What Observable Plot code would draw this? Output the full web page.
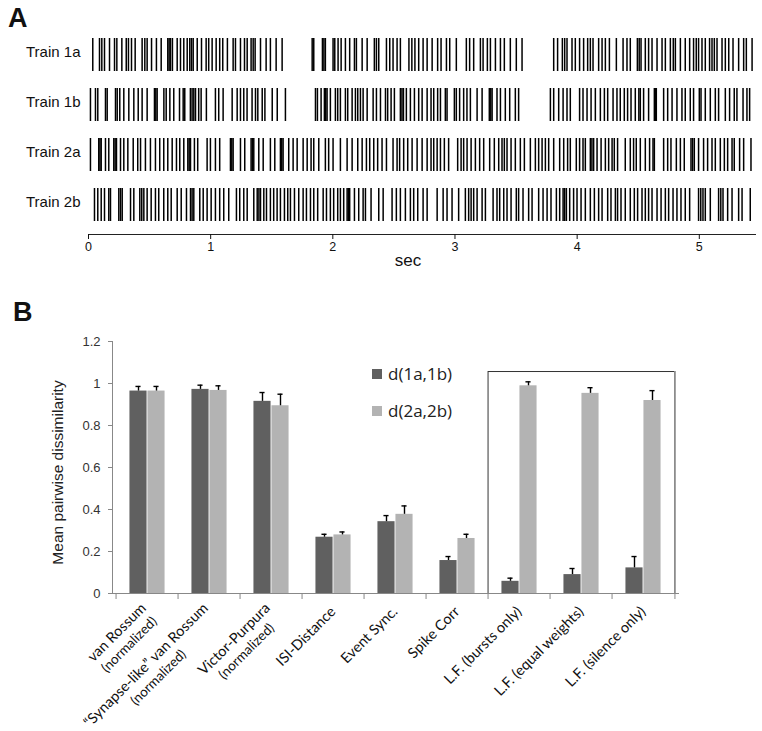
<!DOCTYPE html>
<html><head><meta charset="utf-8">
<script src="https://cdn.jsdelivr.net/npm/d3@7"></script>
<script src="https://cdn.jsdelivr.net/npm/@observablehq/plot@0.6"></script>
<style>
body{margin:0;background:#fff;}
#wrap{position:relative;width:762px;height:731px;overflow:hidden;font-family:"Liberation Sans",Arial,sans-serif;}
.panel{position:absolute;left:0;}
.plab{position:absolute;font-weight:bold;font-size:27px;line-height:1;font-family:"Liberation Sans",Arial,sans-serif;color:#111;}
.leg{position:absolute;left:372px;font-family:"Open Sans",sans-serif;font-size:17px;line-height:1;color:#222;display:flex;align-items:center;}
.leg span.sw{display:inline-block;width:10px;height:10px;margin-right:6px;}
</style></head>
<body><div id="wrap">
<div class="plab" style="left:8px;top:5px">A</div>
<div id="panelA" class="panel" style="top:0px"></div>
<div class="plab" style="left:13px;top:299px">B</div>
<div id="panelB" class="panel" style="top:280px"></div>
<div id="legend"></div>
</div>
<script>
// ---------- Panel A data: spike times (s) ----------
const trainNames = ["Train 1a", "Train 1b", "Train 2a", "Train 2b"];
const train1a = [0.035,0.090,0.109,0.131,0.172,0.213,0.232,0.273,0.309,0.327,0.352,0.382,0.439,0.461,0.480,0.516,0.556,0.595,0.649,0.660,0.671,0.687,0.726,0.753,0.780,0.808,0.829,0.843,0.857,0.890,0.925,0.963,0.984,1.012,1.045,1.074,1.099,1.137,1.184,1.203,1.244,1.277,1.299,1.331,1.348,1.364,1.408,1.454,1.489,1.536,1.585,
 1.831,1.844,1.915,1.927,1.939,2.002,2.016,2.043,2.068,2.103,2.138,2.177,2.193,2.240,2.281,2.340,2.357,2.376,2.439,2.466,2.493,2.526,2.553,2.623,2.647,2.672,2.703,2.739,2.772,2.813,2.858,2.886,2.930,2.957,3.011,3.093,3.120,3.153,3.208,3.230,3.265,3.290,3.331,3.372,3.404,3.453,3.502,3.549,
 3.808,3.840,3.879,3.898,3.917,3.958,3.985,4.020,4.053,4.086,4.108,4.130,4.176,4.204,4.231,4.264,4.321,4.376,4.408,4.435,4.493,4.508,4.523,4.558,4.585,4.613,4.654,4.695,4.722,4.763,4.787,4.804,4.845,4.885,4.921,4.953,4.975,4.994,5.022,5.049,5.084,5.104,5.123,5.145,5.186,5.213,5.241,5.276,5.322,5.363,5.385,5.432];
const train1b = [0.016,0.057,0.076,0.139,0.153,0.221,0.235,0.256,0.289,0.330,0.371,0.407,0.439,0.480,0.540,0.551,0.562,0.617,0.636,0.666,0.698,0.745,0.775,0.788,0.834,0.848,0.862,0.876,0.902,0.922,0.965,1.039,1.066,1.102,1.176,1.217,1.244,1.271,1.298,1.339,1.367,1.386,1.422,1.444,1.504,1.545,1.612,
 1.858,1.874,1.904,1.931,1.942,1.953,1.980,2.021,2.040,2.062,2.103,2.122,2.158,2.185,2.204,2.226,2.248,2.281,2.330,2.357,2.390,2.431,2.449,2.477,2.504,2.553,2.566,2.578,2.602,2.635,2.668,2.703,2.731,2.772,2.804,2.826,2.858,2.881,2.921,2.935,2.995,3.011,3.038,3.071,3.098,3.126,3.181,3.222,3.281,3.293,3.304,3.344,3.372,3.412,3.448,3.494,3.521,
 3.781,3.808,3.849,3.885,3.917,3.944,4.020,4.048,4.081,4.114,4.149,4.190,4.223,4.250,4.294,4.326,4.353,4.386,4.413,4.441,4.476,4.505,4.517,4.544,4.585,4.632,4.640,4.648,4.708,4.741,4.777,4.817,4.858,4.885,4.926,4.953,5.000,5.014,5.049,5.090,5.131,5.158,5.213,5.248,5.286,5.308,5.358,5.390,5.412];
const train2a = [0.016,0.084,0.094,0.104,0.139,0.166,0.207,0.218,0.229,0.262,0.289,0.322,0.366,0.403,0.426,0.466,0.507,0.548,0.583,0.616,0.649,0.685,0.720,0.747,0.780,0.813,0.824,0.835,0.867,0.894,0.971,0.998,1.039,1.074,1.162,1.173,1.184,1.244,1.279,1.331,1.342,1.353,1.394,1.430,1.489,1.525,1.571,1.582,1.593,1.639,1.675,1.708,1.757,1.790,1.822,1.844,1.885,1.939,1.966,2.002,2.062,2.117,2.158,2.204,2.240,2.275,2.302,2.335,2.367,2.403,2.439,2.493,2.526,2.547,2.580,2.613,2.649,2.690,2.731,2.772,2.804,2.826,2.854,2.881,2.913,2.948,3.022,3.050,3.071,3.099,3.132,3.167,3.202,3.235,3.284,3.322,3.358,3.385,3.404,3.426,3.459,3.494,3.535,3.568,3.617,3.658,3.685,3.713,3.740,3.767,3.808,3.857,3.890,3.922,3.944,3.993,4.020,4.048,4.067,4.108,4.121,4.135,4.163,4.196,4.231,4.258,4.286,4.304,4.331,4.394,4.435,4.462,4.484,4.517,4.558,4.593,4.621,4.632,4.708,4.741,4.768,4.812,4.845,4.877,4.932,4.945,4.959,4.994,5.035,5.068,5.104,5.131,5.172,5.205,5.232,5.268,5.286,5.330,5.363,5.423];
const train2b = [0.049,0.076,0.104,0.131,0.166,0.180,0.248,0.262,0.276,0.344,0.371,0.420,0.436,0.453,0.480,0.513,0.548,0.575,0.616,0.649,0.677,0.726,0.759,0.802,0.835,0.848,0.862,0.911,0.939,0.971,1.004,1.039,1.074,1.107,1.148,1.211,1.238,1.271,1.299,1.353,1.381,1.395,1.408,1.435,1.457,1.489,1.516,1.544,1.571,1.604,1.631,1.653,1.686,1.721,1.757,1.784,1.817,1.844,1.876,1.921,1.948,1.980,2.007,2.040,2.062,2.089,2.117,2.128,2.138,2.177,2.212,2.248,2.267,2.313,2.376,2.412,2.485,2.520,2.553,2.594,2.635,2.662,2.695,2.739,2.772,2.854,2.903,2.935,2.976,3.030,3.085,3.112,3.132,3.153,3.181,3.222,3.249,3.312,3.344,3.366,3.399,3.426,3.459,3.502,3.521,3.557,3.603,3.631,3.685,3.721,3.754,3.786,3.830,3.857,3.885,3.898,3.912,3.939,3.971,3.999,4.032,4.067,4.108,4.141,4.176,4.204,4.250,4.277,4.313,4.331,4.359,4.394,4.435,4.468,4.495,4.531,4.558,4.585,4.613,4.654,4.687,4.722,4.749,4.785,4.817,4.850,4.885,4.921,4.994,5.012,5.030,5.049,5.090,5.158,5.176,5.194,5.232,5.268,5.322,5.350,5.417];
const secTicks = [0, 1, 2, 3, 4, 5];
const secMax = 5.46;

// ---------- Panel B data ----------
const categories = ["van Rossum", "\u201CSynapse-like\u201D van Rossum", "Victor-Purpura", "ISI-Distance", "Event Sync.", "Spike Corr", "L.F. (bursts only)", "L.F. (equal weights)", "L.F. (silence only)"];
const subLabels = ["(normalized)", "(normalized)", "(normalized)", "", "", "", "", "", ""];
const seriesNames = ["d(1a,1b)", "d(2a,2b)"];
const d1a1b = [0.964, 0.972, 0.915, 0.268, 0.342, 0.157, 0.058, 0.090, 0.122];
const d2a2b = [0.964, 0.967, 0.894, 0.279, 0.377, 0.262, 0.989, 0.953, 0.919];
const err1 = [0.022, 0.020, 0.042, 0.014, 0.029, 0.019, 0.015, 0.029, 0.054];
const err2 = [0.022, 0.022, 0.055, 0.014, 0.040, 0.020, 0.019, 0.027, 0.047];
const yTicks = [0, 0.2, 0.4, 0.6, 0.8, 1, 1.2];
const boxFirst = "L.F. (bursts only)", boxLast = "L.F. (silence only)", boxTop = 1.057;
const yLabel = "Mean pairwise dissimilarity";
const colors = ["#606060", "#b3b3b3"];

// ---------- Panel A ----------
const spikes = [train1a, train1b, train2a, train2b].flatMap((arr, k) => arr.map(t => ({train: trainNames[k], t})));
const A = Plot.plot({
  width: 762, height: 275,
  marginLeft: 88, marginRight: 7, marginTop: 24, marginBottom: 41,
  style: {fontFamily: "'Liberation Sans', Arial, sans-serif", color: "#111", background: "transparent"},
  x: {domain: [0, secMax]},
  y: {domain: trainNames, paddingInner: 0.34, paddingOuter: 0.26},
  marks: [
    Plot.tickX(spikes, {x: "t", y: "train", stroke: "#000", strokeWidth: 1.5}),
    Plot.axisY({tickSize: 0, tickPadding: 8, fontSize: 15, label: null, dy: -3}),
    Plot.frame({anchor: "bottom", stroke: "#222"}),
    Plot.axisX({ticks: secTicks, tickSize: 5, tickPadding: 3, fontSize: 12.5, label: null, tickFormat: d => String(d)}),
    Plot.text(["sec"], {text: d => d, frameAnchor: "bottom", dx: -14, dy: 31, fontSize: 17})
  ]
});
document.getElementById("panelA").appendChild(A);

// ---------- Panel B ----------
const rows = categories.flatMap((c, i) => [
  {cat: c, series: seriesNames[0], v: d1a1b[i], e: err1[i]},
  {cat: c, series: seriesNames[1], v: d2a2b[i], e: err2[i]}
]);
const catRows = categories.map((c, i) => ({cat: c, sub: subLabels[i]}));
const W = 762, mL = 112, mR = 84;
const step = (W - mL - mR) / categories.length, half = step / 2, bw = 18;
const s0 = rows.filter(d => d.series === seriesNames[0]);
const s1 = rows.filter(d => d.series === seriesNames[1]);
const labFont = "Lato, 'Open Sans', sans-serif";
const B = Plot.plot({
  width: W, height: 451,
  marginLeft: mL, marginRight: mR, marginTop: 61, marginBottom: 138,
  style: {fontFamily: "'Liberation Sans', Arial, sans-serif", color: "#333", background: "transparent", overflow: "visible"},
  x: {domain: categories, padding: 0, axis: null},
  y: {domain: [0, 1.2], axis: null},
  marks: [
    Plot.barY(s0, {x: "cat", y: "v", fill: colors[0], insetLeft: half - bw, insetRight: half}),
    Plot.barY(s1, {x: "cat", y: "v", fill: colors[1], insetLeft: half, insetRight: half - bw}),
    Plot.ruleX(s0, {x: "cat", y1: "v", y2: d => d.v + d.e, dx: -bw / 2, stroke: "#000", strokeWidth: 1.4}),
    Plot.ruleX(s1, {x: "cat", y1: "v", y2: d => d.v + d.e, dx: bw / 2, stroke: "#000", strokeWidth: 1.4}),
    Plot.tickY(s0, {x: "cat", y: d => d.v + d.e, insetLeft: half - bw / 2 - 3, insetRight: half + bw / 2 - 3, stroke: "#000", strokeWidth: 1.4}),
    Plot.tickY(s1, {x: "cat", y: d => d.v + d.e, insetLeft: half + bw / 2 - 3, insetRight: half - bw / 2 - 3, stroke: "#000", strokeWidth: 1.4}),
    Plot.frame({anchor: "left", stroke: "#888"}),
    Plot.frame({anchor: "bottom", stroke: "#888"}),
    Plot.axisY({ticks: yTicks, tickSize: 4, tickPadding: 8, fontSize: 13, tickFormat: d => String(d), label: null, stroke: "#888"}),
    Plot.axisX({ticks: categories, tickSize: 6, tickFormat: () => "", dx: -half, stroke: "#888", label: null}),
    Plot.axisX({ticks: [categories[categories.length - 1]], tickSize: 6, tickFormat: () => "", dx: half, stroke: "#888", label: null}),
    Plot.ruleY([boxTop], {x1: () => boxFirst, x2: () => boxLast, stroke: "#333"}),
    Plot.ruleX([boxFirst], {x: d => d, y1: 0, y2: boxTop, dx: -half, stroke: "#333"}),
    Plot.ruleX([boxLast], {x: d => d, y1: 0, y2: boxTop, dx: half, stroke: "#333"}),
    Plot.text([yLabel], {text: d => d, frameAnchor: "left", textAnchor: "middle", rotate: -90, dx: -54, dy: 5, fontSize: 15.5, fill: "#222"}),
    Plot.text(catRows, {x: "cat", text: "cat", frameAnchor: "bottom", rotate: -45, textAnchor: "end", dx: 3, dy: 19, fontSize: 14.5, fontFamily: labFont, fill: "#111", className: "mainlab"}),
    Plot.text(catRows.filter(d => d.sub), {x: "cat", text: "sub", frameAnchor: "bottom", rotate: -45, textAnchor: "end", dx: 3, dy: 19, fontSize: 13.5, fontFamily: labFont, fill: "#111", className: "sublab"})
  ]
});
document.getElementById("panelB").appendChild(B);

// two-line labels: lines centred on each other, block straddling the anchor
const mainNodes = B.querySelectorAll("g.mainlab text");
const subNodes = B.querySelectorAll("g.sublab text");
const subIdx = catRows.map((d, i) => d.sub ? i : -1).filter(i => i >= 0);
subNodes.forEach((node, k) => {
  const m = mainNodes[subIdx[k]];
  const L1 = m.getComputedTextLength(), L2 = node.getComputedTextLength();
  const L = Math.max(L1, L2);
  m.setAttribute("x", -(L - L1) / 2);
  m.setAttribute("dy", -5);
  node.setAttribute("x", -(L - L2) / 2);
  node.setAttribute("dy", 12);
});

// legend
const leg = document.getElementById("legend");
seriesNames.forEach((s, i) => {
  const div = document.createElement("div");
  div.className = "leg";
  div.style.top = (365 + i * 37) + "px";
  div.innerHTML = `<span class="sw" style="background:${colors[i]}"></span><span>${s}</span>`;
  leg.appendChild(div);
});
</script>
</body></html>
